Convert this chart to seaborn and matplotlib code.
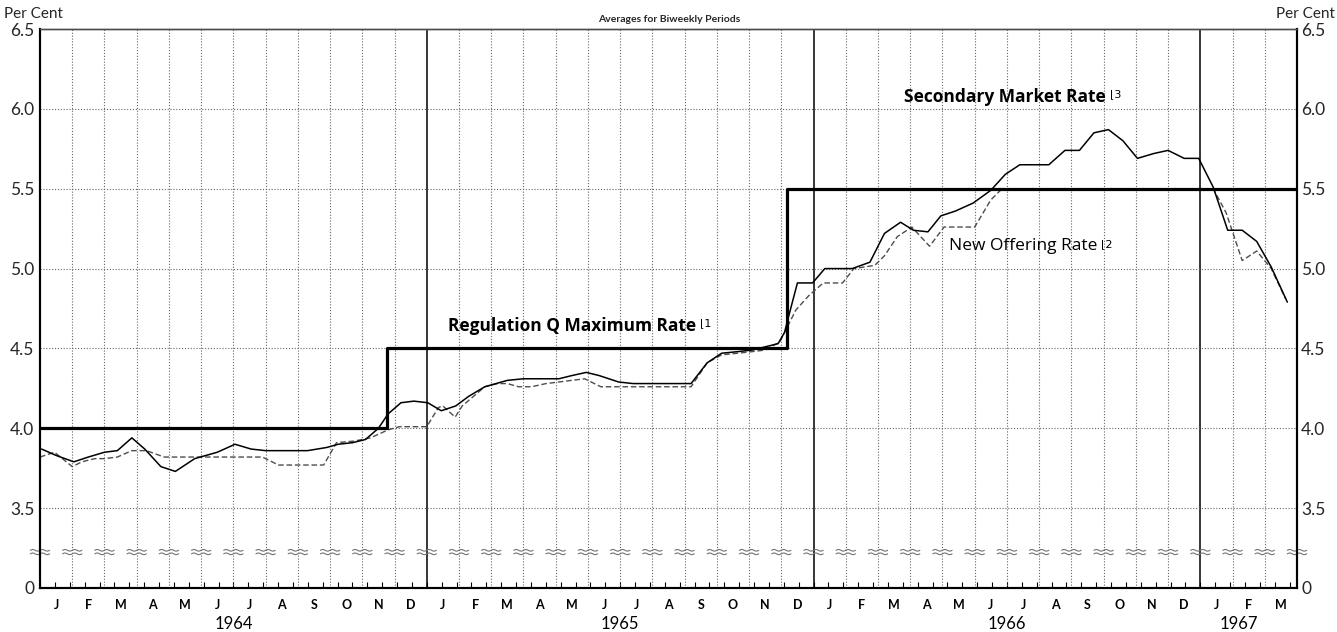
import numpy as np
import matplotlib
matplotlib.use("Agg")
import matplotlib.pyplot as plt
import matplotlib.transforms as mtransforms
import seaborn as sns

# ---------------- data (time in months since 1 Jan 1964) ----------------
month_labels = ['J', 'F', 'M', 'A', 'M', 'J', 'J', 'A', 'S', 'O', 'N', 'D'] * 3 + ['J', 'F', 'M']
year_labels = ['1964', '1965', '1966', '1967']
ytick_values = [3.0, 3.5, 4.0, 4.5, 5.0, 5.5, 6.0, 6.5]
ytick_labels = ['0', '3.5', '4.0', '4.5', '5.0', '5.5', '6.0', '6.5']

# Regulation Q maximum rate (step)
regq_t = [0.0, 10.77, 23.19, 39.0]
regq_v = [4.0, 4.5, 5.5, 5.5]

# Secondary market rate
sec_t = [0.05, 0.5, 1.05, 1.5, 2.0, 2.4, 2.85, 3.25, 3.75, 4.2, 4.8, 5.5, 6.05, 6.55,
         7.0, 7.5, 8.3, 8.9, 9.25, 9.7, 10.1, 10.5, 10.8, 11.2, 11.6, 12.03, 12.45, 12.9,
         13.3, 13.8, 14.5, 15.0, 15.5, 16.1, 16.5, 16.95, 17.35, 17.95, 18.4, 19.0, 19.6,
         20.2, 20.7, 21.15, 21.65, 22.1, 22.5, 22.9, 23.1, 23.2, 23.5, 23.97, 24.35, 24.8,
         25.2, 25.75, 26.2, 26.7, 27.1, 27.55, 27.95, 28.4, 28.95, 29.5, 29.95, 30.4, 30.85,
         31.3, 31.8, 32.25, 32.7, 33.15, 33.6, 34.05, 34.55, 35.0, 35.5, 35.95, 36.4, 36.85,
         37.3, 37.75, 38.2, 38.7]
sec_v = [3.87, 3.83, 3.79, 3.82, 3.85, 3.86, 3.94, 3.87, 3.76, 3.73, 3.81, 3.85, 3.90, 3.87,
         3.86, 3.86, 3.86, 3.88, 3.90, 3.91, 3.93, 4.00, 4.09, 4.16, 4.17, 4.16, 4.11, 4.14,
         4.20, 4.26, 4.30, 4.31, 4.31, 4.31, 4.33, 4.35, 4.33, 4.29, 4.28, 4.28, 4.28,
         4.28, 4.41, 4.47, 4.48, 4.49, 4.51, 4.53, 4.60, 4.68, 4.91, 4.91, 5.00, 5.00,
         5.00, 5.04, 5.22, 5.29, 5.24, 5.23, 5.33, 5.36, 5.41, 5.49, 5.59, 5.65, 5.65,
         5.65, 5.74, 5.74, 5.85, 5.87, 5.80, 5.69, 5.72, 5.74, 5.69, 5.69, 5.51, 5.24,
         5.24, 5.17, 5.01, 4.79]

# New offering rate
new_t = [0.0, 0.45, 1.0, 1.3, 1.7, 2.0, 2.4, 2.85, 3.3, 3.85, 4.5, 5.5, 6.9, 7.4, 8.0,
         8.8, 9.2, 9.75, 10.25, 10.8, 11.15, 11.6, 12.0, 12.36, 12.5, 12.88, 13.1, 13.8,
         14.2, 14.5, 14.85, 15.25, 15.7, 16.1, 16.9, 17.4, 18.0, 19.0, 20.2, 20.7, 21.15,
         21.65, 22.1, 22.5, 22.95, 23.2, 23.45, 23.85, 24.3, 24.9, 25.25, 25.9, 26.2, 26.6,
         27.05, 27.6, 28.05, 28.5, 29.0, 29.5, 29.85, 31.0, 32.5, 34.0, 35.5, 36.4, 36.8,
         37.3, 37.75, 38.2, 38.65]
new_v = [3.82, 3.85, 3.76, 3.79, 3.81, 3.81, 3.82, 3.86, 3.86, 3.82, 3.82, 3.82, 3.82, 3.77, 3.77,
         3.77, 3.91, 3.92, 3.94, 3.99, 4.01, 4.01, 4.01, 4.13, 4.14, 4.07, 4.14, 4.26,
         4.28, 4.28, 4.26, 4.26, 4.28, 4.29, 4.31, 4.26, 4.26, 4.26, 4.26, 4.41, 4.46,
         4.47, 4.48, 4.49, 4.54, 4.64, 4.74, 4.83, 4.91, 4.91, 5.00, 5.02, 5.08, 5.20,
         5.26, 5.14, 5.26, 5.26, 5.26, 5.43, 5.50, 5.50, 5.50, 5.50, 5.50, 5.50, 5.35,
         5.05, 5.11, 5.00, 4.81]

# ---------------- figure ----------------
sns.set_theme(style="white")
plt.rcParams['font.family'] = ['Lato', 'DejaVu Sans']

W, H = 1337, 632
fig = plt.figure(figsize=(W / 100, H / 100), dpi=100)
ax = fig.add_axes([40 / W, 1 - 588 / H, 1257 / W, 559 / H])
n_months = len(month_labels)
ax.set_xlim(0, n_months)
ax.set_ylim(3.0, 6.5)

grid_kw = dict(color='0.4', lw=0.8, ls=(0, (1, 1.6)), zorder=1)
for m in range(1, n_months):
    if m % 12 == 0:
        ax.axvline(m, color='black', lw=1.1, zorder=1)
    else:
        ax.axvline(m, **grid_kw)
for v in ytick_values[1:-1]:
    ax.axhline(v, **grid_kw)

# axis-break marks
brk = 3.225
xs = np.linspace(-0.3, 0.3, 40)
for m in range(0, n_months + 1):
    for off in (0.011, -0.011):
        ys = brk + off + 0.005 * np.sin(np.linspace(0, 4 * np.pi, 40))
        ax.plot(m + xs, ys, color='0.45', lw=0.8, zorder=2, clip_on=False)

# data lines
sns.lineplot(x=new_t, y=new_v, ax=ax, color='0.3', lw=1.0, linestyle=(0, (4, 2)),
             sort=False, zorder=3)
sns.lineplot(x=sec_t, y=sec_v, ax=ax, color='black', lw=1.1, sort=False, zorder=4)
sns.lineplot(x=regq_t, y=regq_v, ax=ax, color='black', lw=2.3, drawstyle='steps-post',
             sort=False, zorder=5)

ax.set_xlabel('')
ax.set_ylabel('')

# ticks
ax.set_xticks([])
ax.set_xticks(np.arange(0, n_months + 0.01, 12 / 26), minor=True)
ax.tick_params(axis='x', which='minor', direction='in', length=4, width=0.8,
               bottom=True, labelbottom=False, color='black')
ax.set_yticks(ytick_values)
ax.set_yticklabels(ytick_labels)
ax.tick_params(axis='y', which='major', length=0, pad=4, labelsize=12.5)
ax2 = ax.twinx()
ax2.set_ylim(ax.get_ylim())
ax2.set_yticks(ytick_values)
ax2.set_yticklabels(ytick_labels)
ax2.tick_params(axis='y', length=0, pad=3, labelsize=12.5)
ax2.grid(False)
ax.grid(False)

for a in (ax, ax2):
    for s in ('left', 'right', 'bottom'):
        a.spines[s].set_color('black')
        a.spines[s].set_linewidth(1.5)
    a.spines['top'].set_color('0.3')
    a.spines['top'].set_linewidth(1.0)
    a.spines['top'].set_linestyle((0, (2, 1)))

# month and year labels
trans = mtransforms.blended_transform_factory(ax.transData, fig.transFigure)
for i, lab in enumerate(month_labels):
    ax.text(i + 0.5, 1 - 605 / H, lab, transform=trans, ha='center', va='center',
            fontsize=9, fontweight='bold', color='black')
for i, yl in enumerate(year_labels):
    start = 12 * i
    n = min(12, n_months - start)
    ax.text(start + n / 2 - (0.3 if n < 12 else 0), 1 - 624 / H, yl, transform=trans,
            ha='center', va='center', fontsize=12, color='black')

# header texts
fig.text(4 / W, 1 - 14 / H, 'Per Cent', ha='left', va='center', fontsize=11)
fig.text(1335 / W, 1 - 14 / H, 'Per Cent', ha='right', va='center', fontsize=11)
fig.text(669 / W, 1 - 20 / H, 'Averages for Biweekly Periods', ha='center', va='center',
         fontsize=7.5, fontweight='bold')

# series labels with footnote marks
def label(x, y, s, note, weight):
    t = ax.text(x, y, s, ha='left', va='center', fontsize=12.5, fontweight=weight,
                color='black', zorder=6, family=['Open Sans', 'DejaVu Sans'])
    ax.annotate('⌊' + note, xy=(1, 0.65), xycoords=t, xytext=(3, 0),
                textcoords='offset points', ha='left', va='center', fontsize=8,
                color='black', family=['DejaVu Sans'])

label(12.65, 4.64, 'Regulation Q Maximum Rate', '1', 'bold')
label(26.8, 6.075, 'Secondary Market Rate', '3', 'bold')
label(28.2, 5.14, 'New Offering Rate', '2', 'normal')

fig.savefig('out.png', dpi=100, facecolor='white')
